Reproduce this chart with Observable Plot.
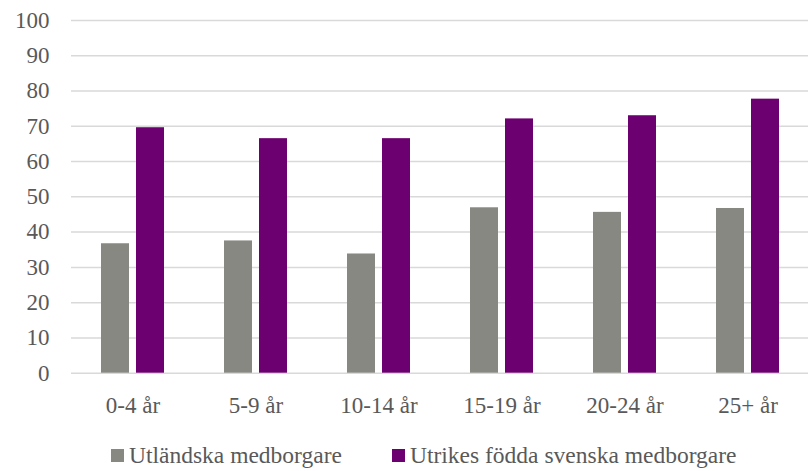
<!DOCTYPE html>
<html>
<head>
<meta charset="utf-8">
<script src="https://cdn.jsdelivr.net/npm/d3@7"></script>
<script src="https://cdn.jsdelivr.net/npm/@observablehq/plot@0.6"></script>
<style>
  html, body { margin: 0; padding: 0; background: #fff; overflow: hidden; }
  #chart { width: 812px; }
  .legend { display: flex; align-items: center; height: 50px; padding-left: 111px; font-family: "Liberation Serif", serif; font-size: 23.5px; color: #595959; white-space: nowrap; }
  .item { display: flex; align-items: center; margin-right: 50px; }
  .sw { width: 13px; height: 13px; margin-right: 5px; }
</style>
</head>
<body>
<div id="chart"></div>
<script>
const ages = ["0-4 år", "5-9 år", "10-14 år", "15-19 år", "20-24 år", "25+ år"];
const seriesNames = ["Utländska medborgare", "Utrikes födda svenska medborgare"];
const utlandska = [36.7, 37.5, 33.8, 46.9, 45.6, 46.7];
const utrikesFodda = [69.6, 66.5, 66.5, 72.1, 73.0, 77.7];
const colors = ["#878882", "#6d0070"];
const yTicks = [0, 10, 20, 30, 40, 50, 60, 70, 80, 90, 100];

const data = [];
ages.forEach((a, i) => {
  data.push({age: a, series: seriesNames[0], value: utlandska[i]});
  data.push({age: a, series: seriesNames[1], value: utrikesFodda[i]});
});

const plot = Plot.plot({
  width: 812,
  height: 430,
  marginLeft: 68,
  marginRight: 0.6,
  marginTop: 20,
  marginBottom: 57.3,
  style: {fontFamily: "'Liberation Serif', serif", fontSize: "23px", color: "#595959", background: "#fff"},
  fx: {domain: ages, padding: 0, label: null},
  x: {domain: seriesNames, paddingInner: 0.2, paddingOuter: 0.82, axis: null},
  y: {domain: [0, 100], label: null},
  color: {domain: seriesNames, range: colors},
  marks: [
    Plot.gridY(yTicks, {stroke: "#d9d9d9", strokeOpacity: 1, strokeWidth: 1.5}),
    Plot.barY(data, {fx: "age", x: "series", y: "value", fill: "series"}),
    Plot.axisY(yTicks, {tickSize: 0, tickPadding: 22, label: null, fill: "#595959"}),
    Plot.axisFx({anchor: "bottom", tickSize: 0, tickPadding: 23, label: null, fill: "#595959"})
  ]
});
document.getElementById("chart").appendChild(plot);

const legend = document.createElement("div");
legend.className = "legend";
seriesNames.forEach((s, i) => {
  const it = document.createElement("div");
  it.className = "item";
  const sw = document.createElement("span");
  sw.className = "sw";
  sw.style.background = colors[i];
  const t = document.createElement("span");
  t.textContent = s;
  it.appendChild(sw);
  it.appendChild(t);
  legend.appendChild(it);
});
document.getElementById("chart").appendChild(legend);
</script>
</body>
</html>
